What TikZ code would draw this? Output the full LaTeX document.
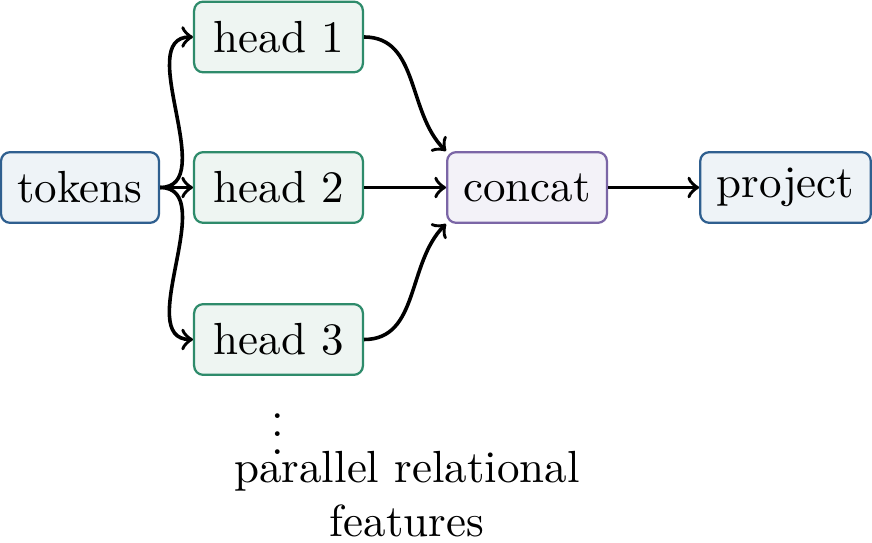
\documentclass[tikz,border=0pt]{standalone}
\usetikzlibrary{positioning}
\definecolor{bluebd}{RGB}{47,95,143}
\definecolor{bluefl}{RGB}{238,243,247}
\definecolor{greenbd}{RGB}{46,139,107}
\definecolor{greenfl}{RGB}{238,245,242}
\definecolor{purpbd}{RGB}{123,102,166}
\definecolor{purpfl}{RGB}{243,242,248}
\begin{document}
\begin{tikzpicture}[x=0.2222pt,y=-0.2222pt,
  box/.style={rounded corners=2pt,line width=0.5pt,inner sep=2pt,minimum height=15.7pt},
  inbox/.style={box,draw=bluebd,fill=bluefl},
  headbox/.style={box,draw=greenbd,fill=greenfl,minimum width=37.5pt},
  catbox/.style={box,draw=purpbd,fill=purpfl,minimum width=35.5pt},
  conn/.style={->,line width=0.8pt}]
\useasboundingbox (0,0) rectangle (872,542);
\node[inbox,minimum width=35.1pt] (tokens) at (80,187.5) {tokens};
\node[headbox] (h1) at (278.5,37) {head 1};
\node[headbox] (h2) at (278.5,187.5) {head 2};
\node[headbox] (h3) at (278.5,339.5) {head 3};
\node[catbox] (concat) at (527,187.5) {concat};
\node[inbox,minimum width=37.9pt] (project) at (785.5,187.5) {project};
\node[anchor=base,inner sep=0pt] (dots) at (278,454) {$\vdots$};
\node[align=center,anchor=south,inner sep=0pt] (note) at (407,538) {parallel relational\\features};
\draw[conn] (tokens.east) to[out=0,in=180] (h1.west);
\draw[conn] (tokens) -- (h2);
\draw[conn] (tokens.east) to[out=0,in=180] (h3.west);
\draw[conn] (h1.east) to[out=0,in=135] (concat.north west);
\draw[conn] (h2) -- (concat);
\draw[conn] (h3.east) to[out=0,in=-135] (concat.south west);
\draw[conn] (concat) -- (project);
\end{tikzpicture}
\end{document}
